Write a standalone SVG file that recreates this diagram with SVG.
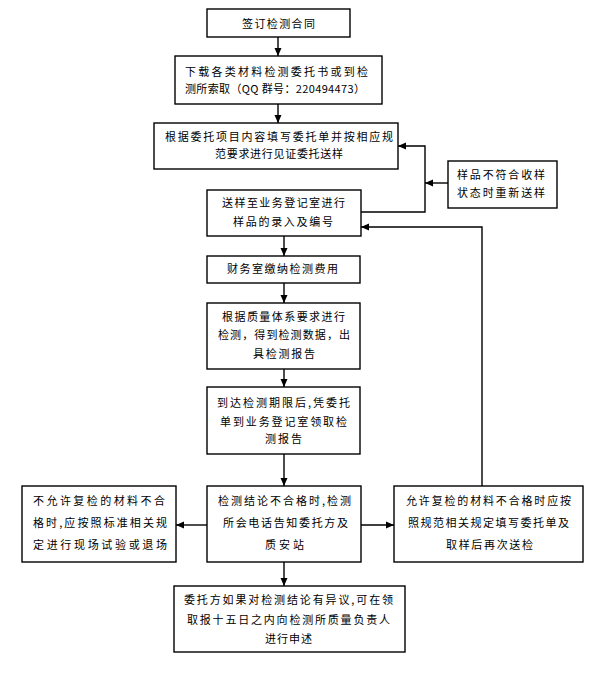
<svg xmlns="http://www.w3.org/2000/svg" width="600" height="690" viewBox="0 0 600 690">
<style>
.box{fill:#fff;stroke:#000;stroke-width:1.4}
.t{font-family:"Noto Sans CJK SC","Liberation Serif",sans-serif;font-size:11px;fill:#000}
.c{fill:none;stroke:#000;stroke-width:1.4}
</style>
<defs>
<marker id="ah" markerUnits="userSpaceOnUse" markerWidth="8" markerHeight="8" refX="8" refY="4" orient="auto">
<path d="M0,0.5 L8,4 L0,7.5 z" fill="#000"/>
</marker>
</defs>
<rect width="600" height="690" fill="#fff"/>
<g id="connectors">
<path class="c" d="M278,37 V56" marker-end="url(#ah)"/>
<path class="c" d="M278,104 V123" marker-end="url(#ah)"/>
<path class="c" d="M361,212 H425 V146 H398" marker-end="url(#ah)"/>
<path class="c" d="M448,183 H425" marker-end="url(#ah)"/>
<path class="c" d="M284,236 V256" marker-end="url(#ah)"/>
<path class="c" d="M284,283 V303" marker-end="url(#ah)"/>
<path class="c" d="M284,369 V387" marker-end="url(#ah)"/>
<path class="c" d="M284,454 V486" marker-end="url(#ah)"/>
<path class="c" d="M207,525 H176" marker-end="url(#ah)"/>
<path class="c" d="M361,525 H394" marker-end="url(#ah)"/>
<path class="c" d="M482,486 V227 H361" marker-end="url(#ah)"/>
<path class="c" d="M284,562 V586" marker-end="url(#ah)"/>
</g>
<g id="n1">
<rect class="box" x="207" y="9" width="143" height="28"/>
<text class="t" x="242" y="28" textLength="73" lengthAdjust="spacing">签订检测合同</text>
</g>
<g id="n2">
<rect class="box" x="175" y="56" width="207" height="48"/>
<text class="t" x="185" y="76" textLength="183" lengthAdjust="spacing">下载各类材料检测委托书或到检</text>
<text class="t" x="185" y="93" textLength="180" lengthAdjust="spacing">测所索取（QQ 群号：220494473）</text>
</g>
<g id="n3">
<rect class="box" x="154" y="123" width="244" height="46"/>
<text class="t" x="165" y="141" textLength="228" lengthAdjust="spacing">根据委托项目内容填写委托单并按相应规</text>
<text class="t" x="215" y="158" textLength="128" lengthAdjust="spacing">范要求进行见证委托送样</text>
</g>
<g id="n4">
<rect class="box" x="448" y="161" width="109" height="47"/>
<text class="t" x="457" y="179" textLength="88" lengthAdjust="spacing">样品不符合收样</text>
<text class="t" x="457" y="197" textLength="88" lengthAdjust="spacing">状态时重新送样</text>
</g>
<g id="n5">
<rect class="box" x="207" y="190" width="154" height="46"/>
<text class="t" x="222" y="207" textLength="123" lengthAdjust="spacing">送样至业务登记室进行</text>
<text class="t" x="233" y="226" textLength="100" lengthAdjust="spacing">样品的录入及编号</text>
</g>
<g id="n6">
<rect class="box" x="207" y="256" width="153" height="27"/>
<text class="t" x="227" y="273" textLength="111" lengthAdjust="spacing">财务室缴纳检测费用</text>
</g>
<g id="n7">
<rect class="box" x="207" y="303" width="153" height="66"/>
<text class="t" x="222" y="321" textLength="123" lengthAdjust="spacing">根据质量体系要求进行</text>
<text class="t" x="218" y="339" textLength="132" lengthAdjust="spacing">检测，得到检测数据，出</text>
<text class="t" x="253" y="358" textLength="62" lengthAdjust="spacing">具检测报告</text>
</g>
<g id="n8">
<rect class="box" x="207" y="387" width="153" height="67"/>
<text class="t" x="217" y="407" textLength="133" lengthAdjust="spacing">到达检测期限后,凭委托</text>
<text class="t" x="220" y="426" textLength="127" lengthAdjust="spacing">单到业务登记室领取检</text>
<text class="t" x="265" y="443" textLength="37" lengthAdjust="spacing">测报告</text>
</g>
<g id="n9">
<rect class="box" x="207" y="486" width="154" height="76"/>
<text class="t" x="218" y="505" textLength="133" lengthAdjust="spacing">检测结论不合格时,检测</text>
<text class="t" x="223" y="527" textLength="125" lengthAdjust="spacing">所会电话告知委托方及</text>
<text class="t" x="265" y="549" textLength="39" lengthAdjust="spacing">质安站</text>
</g>
<g id="n10">
<rect class="box" x="22" y="486" width="154" height="76"/>
<text class="t" x="33" y="505" textLength="132" lengthAdjust="spacing">不允许复检的材料不合</text>
<text class="t" x="33" y="527" textLength="134" lengthAdjust="spacing">格时,应按照标准相关规</text>
<text class="t" x="33" y="549" textLength="134" lengthAdjust="spacing">定进行现场试验或退场</text>
</g>
<g id="n11">
<rect class="box" x="394" y="486" width="189" height="76"/>
<text class="t" x="406" y="505" textLength="165" lengthAdjust="spacing">允许复检的材料不合格时应按</text>
<text class="t" x="408" y="527" textLength="161" lengthAdjust="spacing">照规范相关规定填写委托单及</text>
<text class="t" x="446" y="549" textLength="87" lengthAdjust="spacing">取样后再次送检</text>
</g>
<g id="n12">
<rect class="box" x="174" y="586" width="231" height="66"/>
<text class="t" x="184" y="604" textLength="209" lengthAdjust="spacing">委托方如果对检测结论有异议,可在领</text>
<text class="t" x="187" y="624" textLength="203" lengthAdjust="spacing">取报十五日之内向检测所质量负责人</text>
<text class="t" x="265" y="643" textLength="47" lengthAdjust="spacing">进行申述</text>
</g>
</svg>
